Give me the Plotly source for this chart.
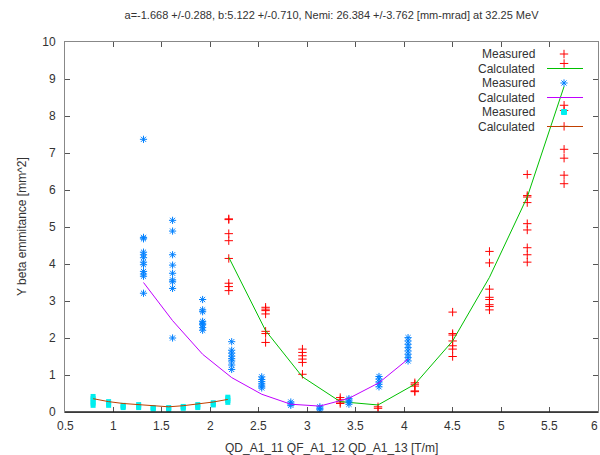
import plotly.graph_objects as go

# ---------------- data ----------------
red_x = [2.19, 2.57, 2.95, 3.34, 3.73, 4.11, 4.50, 4.88, 5.27, 5.65]
red_meas = [
    [5.22, 5.20, 4.82, 4.63, 4.15, 3.48, 3.39, 3.28],
    [2.83, 2.78, 2.74, 2.65, 2.18, 2.12, 1.88],
    [1.70, 1.61, 1.52, 1.43, 1.34, 1.02],
    [0.39, 0.33, 0.27, 0.23],
    [0.14, 0.10],
    [0.79, 0.75, 0.70, 0.57, 0.55],
    [2.70, 2.12, 2.08, 1.92, 1.79, 1.70, 1.50],
    [4.34, 4.03, 3.32, 3.10, 3.04, 2.90, 2.85, 2.76],
    [6.42, 5.85, 5.81, 5.66, 5.09, 4.92, 4.44, 4.25, 4.05],
    [9.42, 8.29, 8.15, 7.72, 7.10, 6.86, 6.40, 6.17],
]
red_calc = [4.18, 2.20, 0.95, 0.28, 0.19, 0.75, 1.92, 3.64, 5.81, 8.80]

blue_x = [1.31, 1.61, 1.92, 2.22, 2.53, 2.83, 3.13, 3.43, 3.74, 4.04]
blue_meas = [
    [7.37, 4.72, 4.68, 4.32, 4.25, 4.17, 4.05, 3.98, 3.80, 3.73, 3.67, 3.21],
    [5.18, 4.89, 4.25, 3.97, 3.75, 3.57, 3.52, 3.34, 2.00],
    [3.04, 2.76, 2.71, 2.45, 2.40, 2.36, 2.28, 2.21],
    [1.90, 1.67, 1.59, 1.51, 1.44, 1.38, 1.27, 1.15],
    [0.95, 0.88, 0.82, 0.76, 0.70, 0.65],
    [0.27, 0.22, 0.18],
    [0.14, 0.10, 0.06],
    [0.36, 0.32, 0.27, 0.21],
    [0.96, 0.89, 0.81, 0.75, 0.68],
    [2.01, 1.92, 1.83, 1.74, 1.65, 1.56, 1.47, 1.38],
]
blue_calc = [3.50, 2.47, 1.56, 0.93, 0.48, 0.21, 0.16, 0.37, 0.79, 1.43]

cyan_x = [0.79, 0.95, 1.10, 1.26, 1.41, 1.57, 1.72, 1.87, 2.03, 2.18]
cyan_meas = [
    [0.18, 0.24, 0.30, 0.36, 0.42],
    [0.18, 0.22, 0.28],
    [0.12, 0.15, 0.18],
    [0.12, 0.16, 0.20],
    [0.08, 0.10, 0.12],
    [0.07, 0.10, 0.12],
    [0.10, 0.13, 0.15],
    [0.12, 0.16, 0.20],
    [0.19, 0.22, 0.25],
    [0.26, 0.31, 0.36, 0.40],
]
cyan_calc = [0.36, 0.28, 0.23, 0.20, 0.16, 0.14, 0.17, 0.21, 0.27, 0.34]

legend_labels = ["Measured", "Calculated", "Measured", "Calculated", "Measured", "Calculated"]
title_text = "a=-1.668 +/-0.288, b:5.122 +/-0.710, Nemi: 26.384 +/-3.762 [mm-mrad] at 32.25 MeV"
x_title = "QD_A1_11 QF_A1_12 QD_A1_13 [T/m]"
y_title = "Y beta emmitance [mm^2]"
x_ticks = [0.5, 1, 1.5, 2, 2.5, 3, 3.5, 4, 4.5, 5, 5.5, 6]

RED, GREEN, BLUE, MAGENTA, CYAN, BROWN = "#ff0000", "#00c000", "#0080ff", "#c000ff", "#00eeee", "#c04000"
FONT = "Liberation Sans, Arial, sans-serif"


def flatten(xs, groups):
    fx, fy = [], []
    for x, g in zip(xs, groups):
        for v in g:
            fx.append(x)
            fy.append(v)
    return fx, fy


fig = go.Figure()

rx, ry = flatten(red_x, red_meas)
fig.add_trace(go.Scatter(x=rx, y=ry, mode="markers",
                         marker=dict(symbol="cross-thin", size=6, color=RED, line=dict(color=RED, width=1))))
fig.add_trace(go.Scatter(x=red_x, y=red_calc, mode="lines", line=dict(color=GREEN, width=1)))

bx, by = flatten(blue_x, blue_meas)
fig.add_trace(go.Scatter(x=bx, y=by, mode="markers",
                         marker=dict(symbol="asterisk-open", size=6, color=BLUE, line=dict(color=BLUE, width=1))))
fig.add_trace(go.Scatter(x=blue_x, y=blue_calc, mode="lines", line=dict(color=MAGENTA, width=1)))

cx, cy = flatten(cyan_x, cyan_meas)
fig.add_trace(go.Scatter(x=cx, y=cy, mode="markers",
                         marker=dict(symbol="square", size=5, color=CYAN, line=dict(width=0))))
fig.add_trace(go.Scatter(x=cyan_x, y=cyan_calc, mode="lines", line=dict(color=BROWN, width=1)))

# ---------------- custom gnuplot-style key ----------------
plot_top, plot_bottom, plot_left, plot_right = 42, 412, 65, 598
ph = plot_bottom - plot_top
pw = plot_right - plot_left
row_y = [54, 68.5, 83, 97.5, 112, 126.5]
text_x = (537 - plot_left) / pw
s0, s1, sc = (547 - plot_left) / pw, (583 - plot_left) / pw, (564 - plot_left) / pw
ann = []
shapes = []
for i, lab in enumerate(legend_labels):
    yp = (plot_bottom - row_y[i]) / ph
    ann.append(dict(text=lab, x=text_x, y=yp, xref="paper", yref="paper", xanchor="right",
                    yanchor="middle", showarrow=False, font=dict(family=FONT, size=12, color="#333333")))
line_rows = [(1, GREEN), (3, MAGENTA), (5, BROWN)]
for i, col in line_rows:
    yp = (plot_bottom - row_y[i]) / ph
    shapes.append(dict(type="line", xref="paper", yref="paper", x0=s0, x1=s1, y0=yp, y1=yp,
                       line=dict(color=col, width=1)))
mk_rows = [(0, "cross-thin", 6, RED), (2, "asterisk-open", 6, BLUE), (4, "square", 5, CYAN)]
for i, sym, sz, col in mk_rows:
    yp = (plot_bottom - row_y[i]) / ph
    fig.add_trace(go.Scatter(x=[sc], y=[yp], xaxis="x2", yaxis="y2", mode="markers",
                             marker=dict(symbol=sym, size=sz, color=col, line=dict(color=col, width=1))))

# bottom border darker
shapes.append(dict(type="line", xref="paper", yref="paper", x0=0, x1=1, y0=0, y1=0,
                   line=dict(color="#202020", width=1.5)))

# x tick labels as text (so the last one at the edge is kept)
for t in x_ticks:
    last = t == x_ticks[-1]
    ann.append(dict(text=f"{t:g}", x=t, xref="x", y=(plot_bottom - 426) / ph, yref="paper",
                    showarrow=False, xanchor="right" if last else "center", yanchor="middle",
                    xshift=2 if last else 0,
                    font=dict(family=FONT, size=12, color="#333333")))

ann.append(dict(text=x_title, x=0.5, y=(plot_bottom - 448) / ph, xref="paper", yref="paper",
                showarrow=False, xanchor="center", yanchor="middle",
                font=dict(family=FONT, size=12, color="#333333")))
ann.append(dict(text=y_title, x=(22 - plot_left) / pw, y=0.5, xref="paper", yref="paper",
                showarrow=False, textangle=-90, xanchor="center", yanchor="middle",
                font=dict(family=FONT, size=12, color="#333333")))

fig.update_layout(
    width=600, height=455,
    margin=dict(l=plot_left, r=600 - plot_right, t=plot_top, b=455 - plot_bottom),
    paper_bgcolor="white", plot_bgcolor="white",
    showlegend=False,
    title=dict(text=title_text, x=0.5, xref="paper", y=1 - 15 / 455, yref="container",
               xanchor="center", yanchor="middle", font=dict(family=FONT, size=11, color="#333333")),
    xaxis=dict(range=[0.5, 6], tickvals=x_ticks, showticklabels=False, ticks="inside", ticklen=5,
               tickcolor="#555555",
               showline=True, linecolor="#888888", linewidth=1, mirror="ticks", showgrid=False,
               zeroline=False),
    yaxis=dict(range=[0, 10], dtick=1, ticks="inside", ticklen=5, tickcolor="#555555",
               showline=True, linecolor="#888888", linewidth=1, mirror="ticks", showgrid=False,
               zeroline=False, tickfont=dict(family=FONT, size=12, color="#333333"),
               ticklabelstandoff=6),
    xaxis2=dict(range=[0, 1], overlaying="x", visible=False, fixedrange=True),
    yaxis2=dict(range=[0, 1], overlaying="y", visible=False, fixedrange=True),
    annotations=ann, shapes=shapes,
)

fig.write_html("out.html", config={"displayModeBar": False},
               post_script="document.body.style.margin='0';document.body.style.overflow='hidden';")
